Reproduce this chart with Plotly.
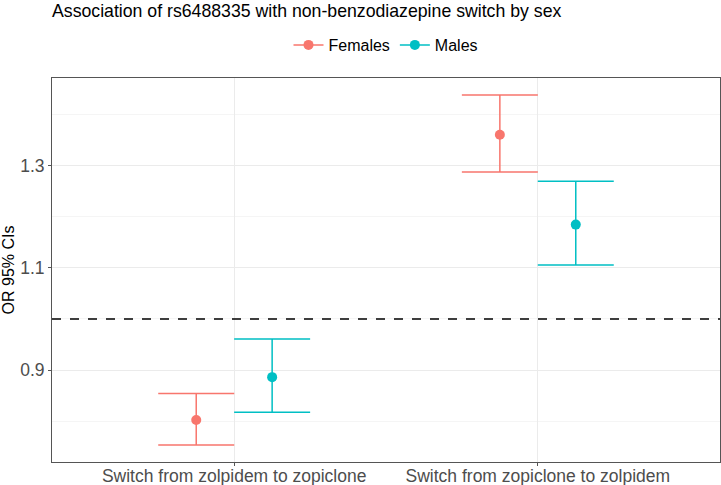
import plotly.graph_objects as go

categories = ["Switch from zolpidem to zopiclone", "Switch from zopiclone to zolpidem"]
sexes = ["Females", "Males"]
colors = {"Females": "#F8766D", "Males": "#00BFC4"}
or_vals = {"Females": [0.802, 1.361], "Males": [0.886, 1.185]}
ci_low = {"Females": [0.753, 1.288], "Males": [0.817, 1.106]}
ci_high = {"Females": [0.854, 1.439], "Males": [0.961, 1.270]}
dodge = {"Females": -0.125, "Males": 0.125}

FONT = "Liberation Sans, Arial, sans-serif"

fig = go.Figure()
for s in sexes:
    xs = [i + 1 + dodge[s] for i in range(len(categories))]
    ys = or_vals[s]
    up = [h - y for h, y in zip(ci_high[s], ys)]
    dn = [y - l for l, y in zip(ci_low[s], ys)]
    fig.add_trace(go.Scatter(
        x=xs, y=ys, mode="markers", name=s, showlegend=False, legendgroup=s,
        marker=dict(color=colors[s], size=10),
        error_y=dict(type="data", array=up, arrayminus=dn, symmetric=False,
                     color=colors[s], thickness=1.5, width=38),
    ))
    # legend entry (point + horizontal bar, like a pointrange key)
    fig.add_trace(go.Scatter(
        x=[None], y=[None], mode="lines+markers", name=s, legendgroup=s,
        marker=dict(color=colors[s], size=10),
        line=dict(color=colors[s], width=1.5),
    ))

fig.add_shape(type="line", xref="paper", x0=0, x1=1, yref="y", y0=1.0, y1=1.0,
              line=dict(color="black", width=1.3, dash="dash"))

fig.update_layout(
    width=721, height=485,
    margin=dict(l=52, r=1, t=78, b=23, autoexpand=False),
    paper_bgcolor="white", plot_bgcolor="white",
    font=dict(family=FONT, color="black"),
    title=dict(text="Association of rs6488335 with non-benzodiazepine switch by sex",
               x=0, xref="paper", xanchor="left", yref="container", y=1 - 11 / 485, yanchor="middle",
               font=dict(size=17.7, color="black")),
    legend=dict(orientation="h", x=0.5, xanchor="center", y=1 + 33 / 384, yanchor="middle",
                font=dict(size=16, color="black"), itemwidth=30, tracegroupgap=0),
    showlegend=True,
)
fig.update_xaxes(
    range=[0.4, 2.6], tickvals=[1, 2], ticktext=categories, automargin=False,
    showgrid=True, gridcolor="#EBEBEB", gridwidth=1.2,
    showline=True, mirror=True, linecolor="#555555", linewidth=1,
    ticks="outside", ticklen=3, tickcolor="#555555", ticklabelstandoff=-5,
    tickfont=dict(size=17.5, color="#4D4D4D"), zeroline=False,
)
fig.update_yaxes(
    range=[0.7197, 1.4723], tickvals=[0.9, 1.1, 1.3], ticktext=["0.9", "1.1", "1.3"], automargin=False,
    showgrid=True, gridcolor="#EBEBEB", gridwidth=1.2,
    minor=dict(tickvals=[0.8, 1.0, 1.2, 1.4], showgrid=True, gridcolor="#F5F5F5", gridwidth=0.8),
    showline=True, mirror=True, linecolor="#555555", linewidth=1,
    ticks="outside", ticklen=3, tickcolor="#555555",
    tickfont=dict(size=17.5, color="#4D4D4D"), zeroline=False,
    title=dict(text="OR 95% CIs", font=dict(size=16, color="black"), standoff=4),
)

fig.write_html("out.html")
